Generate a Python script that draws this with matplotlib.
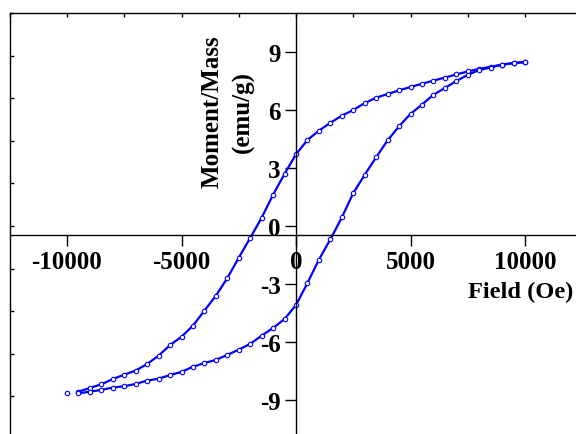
import matplotlib
matplotlib.use("Agg")
import matplotlib.pyplot as plt

plt.rcParams['font.family'] = ['Liberation Serif', 'DejaVu Serif']
plt.rcParams['font.weight'] = 'bold'

# Descending branch (field from +10000 to -9500 Oe)
field_down = [10000, 9500, 9000, 8500, 8000, 7500, 7000, 6500, 6000, 5500,
              5000, 4500, 4000, 3500, 3000, 2500, 2000, 1500, 1000, 500,
              0, -500, -1000, -1500, -2000, -2500, -3000, -3500, -4000, -4500,
              -5000, -5500, -6000, -6500, -7000, -7500, -8000, -8500, -9000, -9500]
moment_down = [8.48, 8.43, 8.35, 8.24, 8.13, 8.00, 7.84, 7.68, 7.52, 7.36,
               7.19, 7.02, 6.83, 6.64, 6.36, 6.00, 5.71, 5.34, 4.93, 4.45,
               3.71, 2.70, 1.62, 0.43, -0.62, -1.64, -2.70, -3.61, -4.38, -5.16,
               -5.73, -6.16, -6.71, -7.14, -7.48, -7.69, -7.92, -8.19, -8.38, -8.57]

# Ascending branch (field from -9500 to +10000 Oe)
field_up = [-9500, -9000, -8500, -8000, -7500, -7000, -6500, -6000, -5500, -5000,
            -4500, -4000, -3500, -3000, -2500, -2000, -1500, -1000, -500, 0,
            500, 1000, 1500, 2000, 2500, 3000, 3500, 4000, 4500, 5000,
            5500, 6000, 6500, 7000, 7500, 8000, 8500, 9000, 9500, 10000]
moment_up = [-8.66, -8.57, -8.48, -8.36, -8.29, -8.17, -8.00, -7.90, -7.71, -7.55,
             -7.28, -7.09, -6.93, -6.67, -6.40, -6.10, -5.67, -5.28, -4.81, -4.09,
             -2.95, -1.74, -0.69, 0.44, 1.70, 2.65, 3.56, 4.43, 5.16, 5.80,
             6.28, 6.79, 7.14, 7.50, 7.82, 8.07, 8.20, 8.35, 8.43, 8.48]

# Isolated first point
field_start = [-10000]
moment_start = [-8.66]

x_ticks = [-10000, -5000, 0, 5000, 10000]
y_ticks = [-9, -6, -3, 0, 3, 6, 9]
frame_x_ticks = [-12500, -10000, -7500, -5000, -2500, 0, 2500, 5000, 7500, 10000, 12500]
frame_y_ticks = [-11, -8.8, -6.6, -4.4, -2.2, 0, 2.2, 4.4, 6.6, 8.8, 11]

W, H = 576, 435
fig = plt.figure(figsize=(W / 100, H / 100), dpi=100)
pos = [9.75 / W, (H - 439.6) / H, 572.5 / W, 425.2 / H]

# frame axes
fr = fig.add_axes(pos, zorder=0)
fr.set_xlim(-12500, 12500)
fr.set_ylim(-11, 11)
fr.set_facecolor('white')
for s in fr.spines.values():
    s.set_linewidth(1.0)
    s.set_color('black')
fr.set_xticks(frame_x_ticks)
fr.set_yticks(frame_y_ticks)
fr.tick_params(axis='both', direction='in', length=3, width=1.0,
               top=True, bottom=False, left=True, right=False,
               labeltop=False, labelbottom=False, labelleft=False, labelright=False)

# main (center) axes
ax = fig.add_axes(pos, zorder=1)
ax.set_facecolor('none')
ax.set_xlim(-12500, 12500)
ax.set_ylim(-11, 11)
ax.spines['left'].set_position(('data', 0))
ax.spines['bottom'].set_position(('data', -0.45))
ax.spines['top'].set_visible(False)
ax.spines['right'].set_visible(False)
for s in ['left', 'bottom']:
    ax.spines[s].set_linewidth(1.0)
ax.set_xticks(x_ticks)
ax.set_yticks(y_ticks)
ax.set_xticklabels([str(v) for v in x_ticks])
ax.set_yticklabels([str(v) for v in y_ticks])
ax.tick_params(axis='both', direction='out', length=8, width=1.0,
               labelsize=18, pad=3)
for lab in ax.get_xticklabels() + ax.get_yticklabels():
    lab.set_fontweight('bold')

blue = '#0000ff'
mk = dict(marker='o', markersize=3.2, markerfacecolor='white',
          markeredgecolor=blue, markeredgewidth=0.8)
ax.plot(field_down, moment_down, color=blue, linewidth=1.6, **mk)
ax.plot(field_up, moment_up, color=blue, linewidth=1.6, **mk)
ax.plot(field_start, moment_start, linestyle='none', **mk)

fig.text(468 / W, 1 - 292 / H, 'Field (Oe)', fontsize=17.6, fontweight='bold',
         ha='left', va='center')
fig.text(228 / W, 1 - 112 / H, 'Moment/Mass\n(emu/g)', fontsize=18,
         fontweight='bold', ha='center', va='center', rotation=90,
         multialignment='center', linespacing=1.45)

fig.savefig('out.png', dpi=100)
